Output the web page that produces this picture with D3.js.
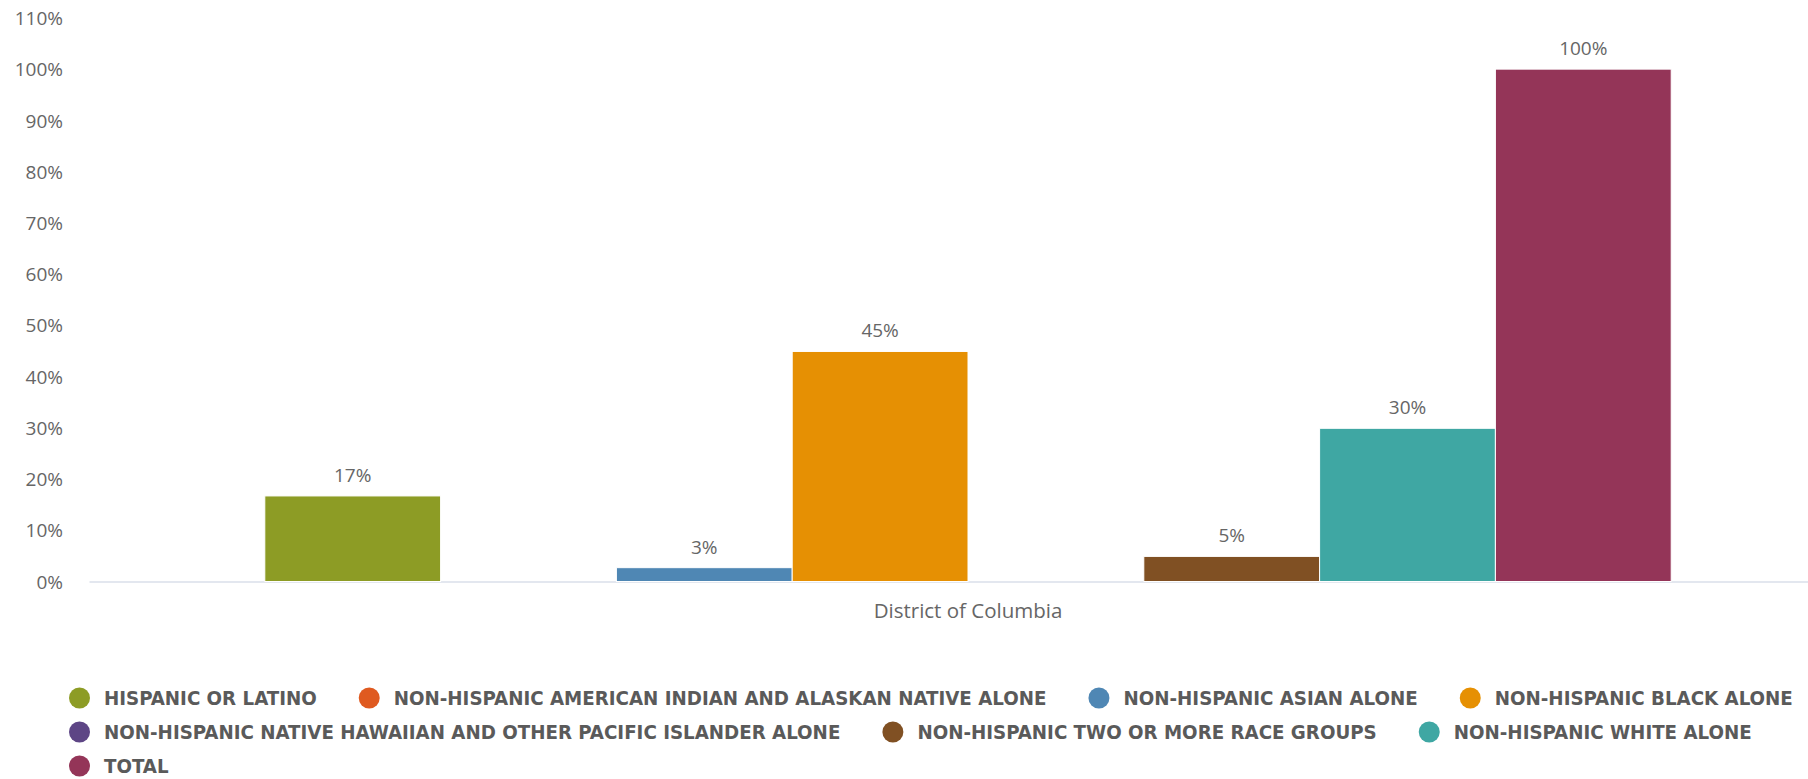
<!DOCTYPE html>
<html>
<head>
<meta charset="utf-8">
<script src="https://cdn.jsdelivr.net/npm/d3@7"></script>
<style>
  html, body { margin: 0; padding: 0; background: #fff; overflow: hidden; }
  svg { display: block; }
</style>
</head>
<body>
<svg id="chart" width="1808" height="779"></svg>
<script>
// ---- data ----
const categories = ["District of Columbia"];
const seriesNames = [
  "HISPANIC OR LATINO",
  "NON-HISPANIC AMERICAN INDIAN AND ALASKAN NATIVE ALONE",
  "NON-HISPANIC ASIAN ALONE",
  "NON-HISPANIC BLACK ALONE",
  "NON-HISPANIC NATIVE HAWAIIAN AND OTHER PACIFIC ISLANDER ALONE",
  "NON-HISPANIC TWO OR MORE RACE GROUPS",
  "NON-HISPANIC WHITE ALONE",
  "TOTAL"
];
const seriesValues = [16.7, null, 2.7, 44.9, null, 4.9, 29.9, 100];
const seriesColors = ["#8d9c25", "#df5a20", "#4f87b4", "#e69003", "#5d4585", "#805023", "#3fa7a3", "#943558"];
const yTicks = [0, 10, 20, 30, 40, 50, 60, 70, 80, 90, 100, 110];

// ---- layout ----
const svg = d3.select("#chart");
const plotLeft = 89, plotRight = 1847, plotTop = 17.9, plotBottom = 581.5;
const labelFont = "'Open Sans', sans-serif";
const legendFont = "'DejaVu Sans Condensed', 'DejaVu Sans', sans-serif";

const y = d3.scaleLinear().domain([0, 110]).range([plotBottom, plotTop]);
const x0 = d3.scaleBand().domain(categories).range([plotLeft, plotRight]);
const x1 = d3.scaleBand().domain(seriesNames)
  .range([x0.bandwidth() * 0.1, x0.bandwidth() * 0.9]);

// y axis labels (no line, no grid)
const yAxis = d3.axisLeft(y).tickValues(yTicks).tickSize(0).tickPadding(0)
  .tickFormat(d => d + "%");
const gy = svg.append("g").attr("transform", "translate(63,0)").call(yAxis);
gy.select(".domain").remove();
gy.selectAll("text")
  .attr("fill", "#666").attr("dy", "0.35em")
  .style("font-family", labelFont).style("font-size", "19px");

// x axis
const xAxis = d3.axisBottom(x0).tickSize(0).tickPadding(0);
const gx = svg.append("g").attr("transform", `translate(0,${plotBottom})`).call(xAxis);
gx.select(".domain").attr("stroke", "#e3e7ef").attr("stroke-width", 2);
gx.selectAll("text")
  .attr("fill", "#666").attr("y", 29).attr("dy", "0.35em")
  .style("font-family", labelFont).style("font-size", "20.5px");

// bars
const rows = seriesNames.map((s, i) => ({ name: s, value: seriesValues[i], color: seriesColors[i] }))
  .filter(d => d.value !== null);
const groups = svg.selectAll("g.cat").data(categories).enter().append("g")
  .attr("class", "cat").attr("transform", d => `translate(${x0(d)},0)`);
groups.selectAll("rect").data(rows).enter().append("rect")
  .attr("x", d => x1(d.name))
  .attr("y", d => y(d.value))
  .attr("width", x1.bandwidth())
  .attr("height", d => y(0) - y(d.value))
  .attr("fill", d => d.color)
  .attr("stroke", "#fff").attr("stroke-width", 1);
groups.selectAll("text.lbl").data(rows).enter().append("text")
  .attr("class", "lbl")
  .attr("x", d => x1(d.name) + x1.bandwidth() / 2)
  .attr("y", d => y(d.value) - 14)
  .attr("text-anchor", "middle")
  .attr("fill", "#666")
  .style("font-family", labelFont).style("font-size", "19px")
  .text(d => Math.round(d.value) + "%");

// legend (flow layout)
const legend = svg.append("g");
const legStartX = 69, legRowY0 = 698, legRowH = 34, legMaxX = 1808;
const symR = 10.5, textOff = 35, itemGap = 42;
let lx = legStartX, row = 0;
seriesNames.forEach((name, i) => {
  const item = legend.append("g");
  const t = item.append("text")
    .attr("x", textOff).attr("y", 0).attr("dy", "0.36em")
    .attr("fill", "#5a5a5a")
    .style("font-family", legendFont).style("font-size", "20.3px").style("font-weight", "bold")
    .text(name);
  const w = t.node().getComputedTextLength();
  if (lx + textOff + w > legMaxX) { row++; lx = legStartX; }
  item.append("circle").attr("cx", symR).attr("cy", 0).attr("r", symR).attr("fill", seriesColors[i]);
  item.attr("transform", `translate(${lx},${legRowY0 + row * legRowH})`);
  lx += textOff + w + itemGap;
});
</script>
</body>
</html>
